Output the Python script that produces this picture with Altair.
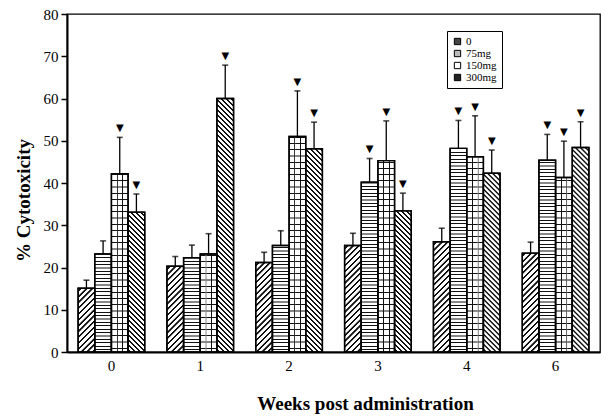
import altair as alt

# ---- data ----
weeks = ["0", "1", "2", "3", "4", "6"]
doses = ["0", "75mg", "150mg", "300mg"]
cyto_0 = [15.1, 20.3, 21.2, 25.2, 26.1, 23.4]
cyto_75 = [23.2, 22.3, 25.2, 40.2, 48.2, 45.4]
cyto_150 = [42.2, 23.2, 51.0, 45.3, 46.2, 41.3]
cyto_300 = [33.1, 60.0, 48.1, 33.4, 42.3, 48.4]
err_0 = [1.9, 2.3, 2.4, 2.9, 3.2, 2.6]
err_75 = [3.1, 3.0, 3.5, 5.6, 6.6, 6.1]
err_150 = [8.6, 4.8, 10.8, 9.4, 9.7, 8.6]
err_300 = [4.3, 7.9, 6.3, 4.2, 5.5, 6.1]
sig_0 = [0, 0, 0, 0, 0, 0]
sig_75 = [0, 0, 0, 1, 1, 1]
sig_150 = [1, 0, 1, 1, 1, 1]
sig_300 = [1, 1, 1, 1, 1, 1]

values = [cyto_0, cyto_75, cyto_150, cyto_300]
errors = [err_0, err_75, err_150, err_300]
sigs = [sig_0, sig_75, sig_150, sig_300]

# ---- layout ----
W, H = 533, 338
YMAX = 80
step = W / len(weeks)
bw = step * 0.75 / len(doses)
INK = "#111111"
CLEAR = "rgba(255,255,255,0)"
SOFT = 0.4  # px of soft edge on each stripe side


def stripe_stops(period, thick, span, phase, bg):
    stops = [{"offset": 0, "color": bg}]
    t = phase
    e = SOFT
    while t + thick + e < span:
        a0, a1 = t / span, (t + e) / span
        b0, b1 = (t + thick) / span, (t + thick + e) / span
        stops += [{"offset": round(a0, 6), "color": bg}, {"offset": round(a1, 6), "color": INK},
                  {"offset": round(b0, 6), "color": INK}, {"offset": round(b1, 6), "color": bg}]
        t += period
    stops.append({"offset": 1, "color": bg})
    return stops


def diag(gid, h, w, period, thick, forward=True):
    R = h / w
    s = (w + h) / (w * (1 + R * R))
    stops = stripe_stops(period, thick, w + h, period * 0.3, "white")
    if forward:   # "/"
        return {"gradient": "linear", "id": gid, "x1": 0, "y1": 0, "x2": s, "y2": s * R,
                "stops": stops}
    return {"gradient": "linear", "id": gid, "x1": 0, "y1": 1, "x2": s, "y2": 1 - s * R,
            "stops": stops}


def horiz(gid, h, period, thick, bg="white"):
    return {"gradient": "linear", "id": gid, "x1": 0, "y1": 1, "x2": 0, "y2": 0,
            "stops": stripe_stops(period, thick, h, period * 0.5, bg)}


def vert(gid, w, thick):
    return {"gradient": "linear", "id": gid, "x1": 0, "y1": 0, "x2": 1, "y2": 0,
            "stops": stripe_stops(w / 3, thick, w, w / 3 - thick / 2, CLEAR)}


records = []
for di, dose in enumerate(doses):
    for wi, wk in enumerate(weeks):
        v = values[di][wi]
        e = errors[di][wi]
        h = v * H / YMAX
        gid = f"hatch_{di}_{wi}"
        if di == 0:
            g = diag(gid, h, bw, 5.8, 2.2, True)
        elif di == 1:
            g = horiz(gid, h, 3.4, 1.0)
        elif di == 2:
            g = horiz(gid, h, 6.2, 1.0)
        else:
            g = diag(gid, h, bw, 5.0, 2.0, False)
        records.append({
            "week": wk, "dose": dose, "value": v, "top": v + e,
            "sig": sigs[di][wi], "grad": g,
            "grad2": vert(f"vgrid_{wi}", bw, 1.0) if di == 2 else None,
        })

data = alt.Data(values=records)
serif = "Liberation Serif"

x_enc = alt.X("week:N", sort=weeks,
              scale=alt.Scale(paddingInner=0.25, paddingOuter=0.125),
              axis=alt.Axis(title="Weeks post administration", labelAngle=0, ticks=False,
                            labelFont=serif, labelFontSize=15, labelColor="black",
                            labelPadding=6, titleFont=serif, titleFontSize=19,
                            titleFontWeight="bold", titleColor="black",
                            titleX=298, titleY=51, titleAlign="center",
                            titleBaseline="middle",
                            domainColor="black", domainWidth=2))
xo_enc = alt.XOffset("dose:N", sort=doses, scale=alt.Scale(paddingInner=0, paddingOuter=0))
y_enc = alt.Y("value:Q", scale=alt.Scale(domain=[0, YMAX], nice=False),
              axis=alt.Axis(title="% Cytotoxicity", values=list(range(0, 81, 10)),
                            grid=False, tickSize=6, tickWidth=1.5, tickColor="black",
                            labelFont=serif, labelFontSize=15, labelColor="black",
                            labelPadding=3, titleFont=serif, titleFontSize=19,
                            titleFontWeight="bold", titleColor="black",
                            titleX=-44, titleY=186, titleAngle=270, titleAlign="center",
                            titleBaseline="middle",
                            domainColor="black", domainWidth=2))

base = alt.Chart(data)

bars = base.mark_bar(stroke="black", strokeWidth=1.4).encode(
    x=x_enc, xOffset=xo_enc, y=y_enc,
    fill=alt.Fill("grad:N", scale=None),
)

grid_lines = base.mark_bar(strokeWidth=0).encode(
    x=x_enc, xOffset=xo_enc, y=y_enc,
    fill=alt.Fill("grad2:N", scale=None),
).transform_filter(alt.datum.dose == "150mg")

outline = base.mark_bar(fillOpacity=0, stroke="black", strokeWidth=1.4).encode(
    x=x_enc, xOffset=xo_enc, y=y_enc,
)

errs = base.mark_rule(color="black", strokeWidth=1.3).encode(
    x=x_enc, xOffset=xo_enc, y=y_enc, y2="top:Q",
)

caps = base.mark_tick(color="black", size=6, thickness=1.6).encode(
    x=x_enc, xOffset=xo_enc, y=alt.Y("top:Q"),
)

marks = base.mark_text(text="▼", font="DejaVu Sans", fontSize=10, color="black",
                       baseline="bottom", dy=-4).encode(
    x=x_enc, xOffset=xo_enc, y=alt.Y("top:Q"),
).transform_filter(alt.datum.sig == 1)

legend_layer = base.mark_square(opacity=0).encode(
    x=x_enc, xOffset=xo_enc, y=y_enc,
    color=alt.Color("dose:N", sort=doses,
                    scale=alt.Scale(domain=doses, range=["#444444", "#bbbbbb", "#ffffff", "#222222"]),
                    legend=alt.Legend(title=None, orient="none", legendX=380, legendY=17,
                                      strokeColor="black", fillColor="white", padding=5,
                                      symbolType="square", symbolSize=40, symbolOpacity=1,
                                      symbolStrokeColor="black", symbolStrokeWidth=1,
                                      labelFont=serif, labelFontSize=11, labelColor="black",
                                      rowPadding=0, labelOffset=3, labelLimit=0)),
)

chart = alt.layer(bars, grid_lines, outline, errs, caps, marks, legend_layer).properties(
    width=W, height=H,
    autosize=alt.AutoSizeParams(type="none"),
    padding={"left": 59, "top": 6, "right": 2, "bottom": 66},
).configure_view(stroke="black", strokeWidth=1.3)

chart.save("out.html", embed_options={"renderer": "svg", "actions": False})
